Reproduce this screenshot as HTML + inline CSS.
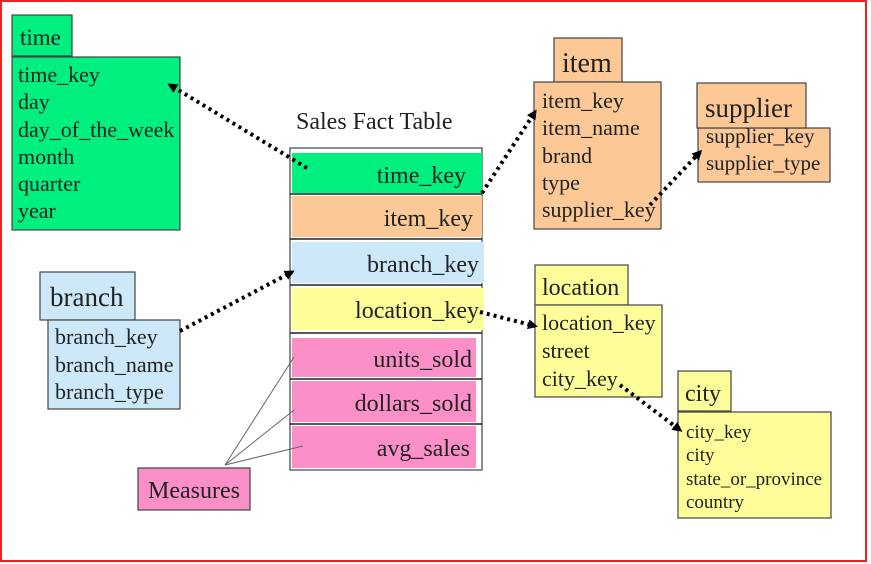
<!DOCTYPE html>
<html><head><style>body{margin:0;background:#fff}svg{display:block}text{font-family:"Liberation Serif",serif;fill:#222}</style></head><body>
<svg width="871" height="564" viewBox="0 0 871 564" xmlns="http://www.w3.org/2000/svg">
<defs><marker id="a" markerWidth="10" markerHeight="10" refX="7" refY="5" orient="auto" markerUnits="userSpaceOnUse"><path d="M0,0L10,5L0,10z" fill="#000"/></marker></defs>
<rect x="1" y="1" width="865" height="560" fill="none" stroke="#e22" stroke-width="2"/>
<g stroke="#444" stroke-width="1.2">
<rect x="12" y="15" width="60" height="41" fill="#00f07f"/>
<rect x="12" y="57" width="168" height="173" fill="#00f07f"/>
<rect x="40" y="272" width="95" height="48" fill="#cde8f8"/>
<rect x="48" y="320" width="132" height="89" fill="#cde8f8"/>
<rect x="138" y="468" width="112" height="42" fill="#fb90c8"/>
<rect x="554" y="38" width="68" height="44" fill="#fbc896"/>
<rect x="534" y="82" width="127" height="147" fill="#fbc896"/>
<rect x="698" y="128" width="132" height="54" fill="#fbc896"/>
<rect x="697" y="83" width="109" height="45" fill="#fbc896"/>
<rect x="535" y="265" width="93" height="40" fill="#fdfd9a"/>
<rect x="535" y="305" width="127" height="92" fill="#fdfd9a"/>
<rect x="678" y="371" width="53" height="40" fill="#fdfd9a"/>
<rect x="678" y="412" width="153" height="106" fill="#fdfd9a"/>
<rect x="290" y="148" width="192" height="322" fill="#fff"/>
</g>
<rect x="292" y="153" width="190" height="40" fill="#00f07f"/>
<rect x="292" y="196" width="190" height="41" fill="#fbc896"/>
<rect x="292" y="242" width="192" height="41" fill="#cde8f8"/>
<rect x="292" y="288" width="192" height="42" fill="#fdfd9a"/>
<rect x="292" y="338" width="184" height="39" fill="#fb90c8"/>
<rect x="292" y="381" width="184" height="41" fill="#fb90c8"/>
<rect x="292" y="426" width="184" height="42" fill="#fb90c8"/>
<g stroke="#222" stroke-width="1.5"><line x1="290" y1="194" x2="482" y2="194"/><line x1="290" y1="239" x2="482" y2="239"/><line x1="290" y1="285" x2="482" y2="285"/><line x1="290" y1="333" x2="482" y2="333"/><line x1="290" y1="379" x2="482" y2="379"/><line x1="290" y1="424" x2="482" y2="424"/></g>
<g font-size="22">
<text x="20" y="45" font-size="23">time</text>
<text x="18" y="82">time_key</text><text x="18" y="109">day</text><text x="18" y="137">day_of_the_week</text><text x="18" y="164">month</text><text x="18" y="191">quarter</text><text x="18" y="218">year</text>
<text x="55" y="344">branch_key</text><text x="55" y="372">branch_name</text><text x="55" y="399">branch_type</text>
<text x="542" y="108">item_key</text><text x="542" y="135">item_name</text><text x="542" y="163">brand</text><text x="542" y="190">type</text><text x="542" y="217">supplier_key</text>
<text x="542" y="295" font-size="24">location</text>
<text x="542" y="330">location_key</text><text x="542" y="358">street</text><text x="542" y="386">city_key</text>
<text x="685" y="401" font-size="24">city</text>
</g>
<g font-size="24">
<text x="296" y="129">Sales Fact Table</text>
<text x="466" y="183" text-anchor="end">time_key</text>
<text x="473" y="226" text-anchor="end">item_key</text>
<text x="479" y="272" text-anchor="end">branch_key</text>
<text x="479" y="318" text-anchor="end">location_key</text>
<text x="472" y="367" text-anchor="end">units_sold</text>
<text x="472" y="411" text-anchor="end">dollars_sold</text>
<text x="470" y="456" text-anchor="end">avg_sales</text>
<text x="148" y="498">Measures</text>
</g>
<text x="50" y="306" font-size="27">branch</text>
<text x="562" y="72" font-size="28">item</text>
<text x="705" y="117" font-size="27">supplier</text>
<g font-size="21"><text x="706" y="143">supplier_key</text><text x="706" y="170">supplier_type</text></g>
<g font-size="19"><text x="686" y="438">city_key</text><text x="686" y="461">city</text><text x="686" y="485">state_or_province</text><text x="686" y="508">country</text></g>
<g stroke="#000" stroke-width="4" stroke-dasharray="3,4" fill="none" marker-end="url(#a)">
<line x1="307" y1="168" x2="170" y2="85"/>
<line x1="482" y1="193" x2="535" y2="112"/>
<line x1="650" y1="205" x2="700" y2="152"/>
<line x1="180" y1="331" x2="292" y2="272" marker-end=""/>
<line x1="480" y1="312" x2="535" y2="326"/>
<line x1="620" y1="385" x2="680" y2="430"/>
</g>
<g stroke="#666" stroke-width="1"><line x1="225" y1="465" x2="294" y2="357"/><line x1="225" y1="465" x2="294" y2="410"/><line x1="225" y1="465" x2="303" y2="446"/></g>
</svg>
</body></html>
